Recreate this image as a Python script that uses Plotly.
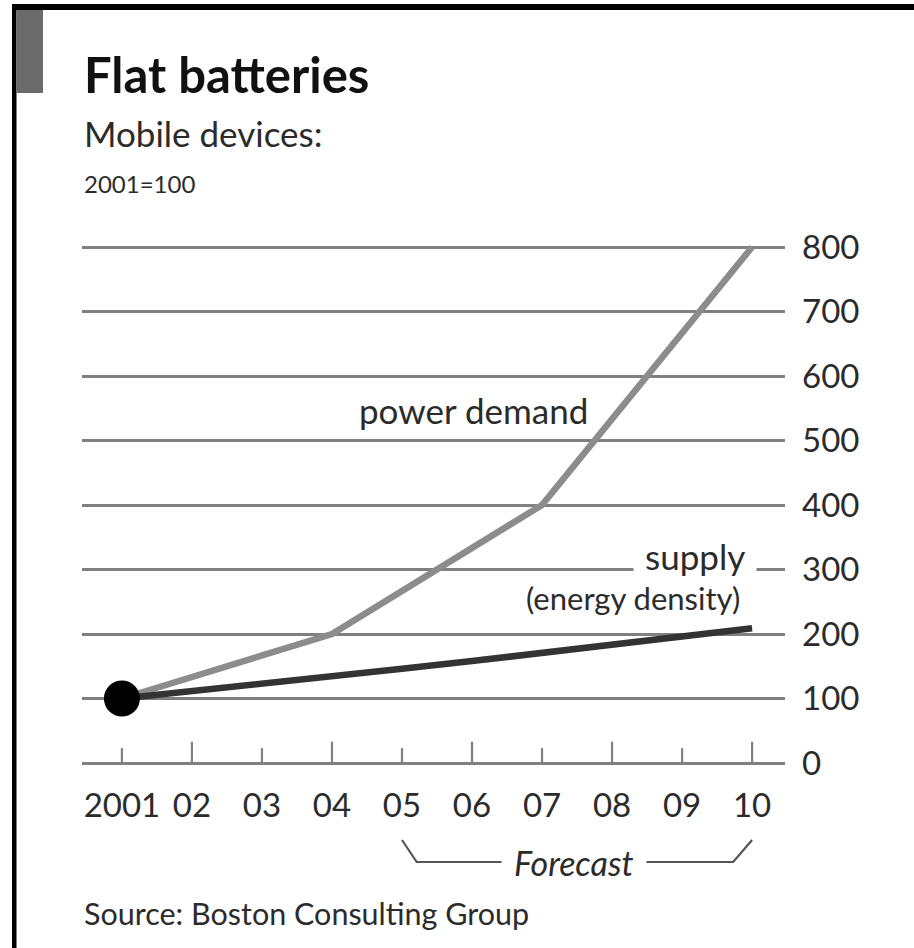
import plotly.graph_objects as go

# Mobile devices, index 2001=100
years = [2001, 2002, 2003, 2004, 2005, 2006, 2007, 2008, 2009, 2010]
year_labels = ["2001", "02", "03", "04", "05", "06", "07", "08", "09", "10"]
power_years = [2001, 2004, 2007, 2010]
power_demand = [100, 200, 400, 800]
supply = [100, 111, 123, 134, 146, 158, 171, 184, 196, 209]
y_ticks = [0, 100, 200, 300, 400, 500, 600, 700, 800]

# page geometry (pixels)
W, H = 914, 948
L, R, T, B = 82, 785, 230, 770


def xp(px):
    return (px - L) / (R - L)


def yp(py):
    return (B - py) / (B - T)


FONT = "Lato"
TXT = "#2b2b2b"
GRID = "#808080"

fig = go.Figure()

# tick marks rising from the baseline, taller on even years
tick_x, tick_y = [], []
for i, yr in enumerate(years):
    tick_x += [yr, yr, None]
    tick_y += [0, 33 if i % 2 else 23, None]
fig.add_trace(go.Scatter(x=tick_x, y=tick_y, mode="lines",
                         line=dict(color=GRID, width=2.2),
                         hoverinfo="skip", showlegend=False))

fig.add_trace(go.Scatter(x=power_years, y=power_demand, mode="lines",
                         line=dict(color="#8c8c8c", width=6.5),
                         hoverinfo="skip", showlegend=False))
fig.add_trace(go.Scatter(x=years, y=supply, mode="lines",
                         line=dict(color="#333333", width=6.5),
                         hoverinfo="skip", showlegend=False))
fig.add_trace(go.Scatter(x=[years[0]], y=[supply[0]], mode="markers",
                         marker=dict(color="black", size=36),
                         hoverinfo="skip", showlegend=False))

fig.update_xaxes(range=[2000.43, 2010.47], tickvals=years, ticktext=year_labels,
                 showgrid=False, zeroline=False, showline=False, ticks="",
                 ticklabelstandoff=13,
                 tickfont=dict(family=FONT, size=33, color=TXT), fixedrange=True)
fig.update_yaxes(range=[-10.85, 826.35], tickvals=y_ticks, side="right",
                 showgrid=True, gridcolor=GRID, gridwidth=2.5,
                 zeroline=False, showline=False, ticks="",
                 ticklabelstandoff=16,
                 tickfont=dict(family=FONT, size=33, color=TXT), fixedrange=True)

annotations = [
    dict(text="<b>Flat batteries</b>", x=xp(82), y=yp(74), xanchor="left", yanchor="middle",
         font=dict(family=FONT, size=49, color="#111111")),
    dict(text="Mobile devices:", x=xp(82), y=yp(133), xanchor="left", yanchor="middle",
         font=dict(family=FONT, size=35, color=TXT)),
    dict(text="2001=100", x=xp(82), y=yp(183), xanchor="left", yanchor="middle",
         font=dict(family=FONT, size=24, color=TXT)),
    dict(text="Source: Boston Consulting Group", x=xp(82), y=yp(913), xanchor="left",
         yanchor="middle", font=dict(family=FONT, size=30.5, color=TXT)),
    dict(text="<i>Forecast</i>", x=2007.46, y=yp(862), xref="x", yref="paper",
         xanchor="center", yanchor="middle", bgcolor="white", borderpad=12,
         font=dict(family=FONT, size=34, color=TXT)),
]
for a in annotations:
    a.setdefault("xref", "paper")
    a.setdefault("yref", "paper")
    a["showarrow"] = False

# series labels in data coordinates
annotations += [
    dict(text="power demand", x=2007.69, y=547, xref="x", yref="y", xanchor="right",
         yanchor="middle", showarrow=False, font=dict(family=FONT, size=35, color=TXT)),
    dict(text="supply", x=2010.07, y=321, xref="x", yref="y", xanchor="right",
         yanchor="middle", showarrow=False, bgcolor="white", borderpad=11,
         font=dict(family=FONT, size=35, color=TXT)),
    dict(text="(energy density)", x=2009.86, y=256, xref="x", yref="y", xanchor="right",
         yanchor="middle", showarrow=False, font=dict(family=FONT, size=31, color=TXT)),
]

shapes = [
    # forecast bracket under the 2005-2010 labels
    dict(type="path", xref="x", yref="paper",
         path=f"M 2005,{yp(840)} L 2005.21,{yp(862)} L 2009.73,{yp(862)} L 2010,{yp(840)}",
         line=dict(color="#555555", width=2.2)),
    # frame: top rule, left rule and grey tab
    dict(type="rect", xref="paper", yref="paper", x0=xp(12), x1=xp(W + 5),
         y0=yp(10), y1=yp(4), fillcolor="black", line=dict(width=0), layer="above"),
    dict(type="rect", xref="paper", yref="paper", x0=xp(12), x1=xp(16.5),
         y0=yp(H + 5), y1=yp(4), fillcolor="black", line=dict(width=0), layer="above"),
    dict(type="rect", xref="paper", yref="paper", x0=xp(16.5), x1=xp(43),
         y0=yp(93), y1=yp(10), fillcolor="#6b6b6b", line=dict(width=0), layer="above"),
]

fig.update_layout(
    width=W, height=H, autosize=False,
    margin=dict(l=L, r=W - R, t=T, b=H - B, pad=0),
    paper_bgcolor="white", plot_bgcolor="white",
    showlegend=False, hovermode=False,
    annotations=annotations, shapes=shapes,
)

fig.write_html("out.html", config={"displayModeBar": False})
